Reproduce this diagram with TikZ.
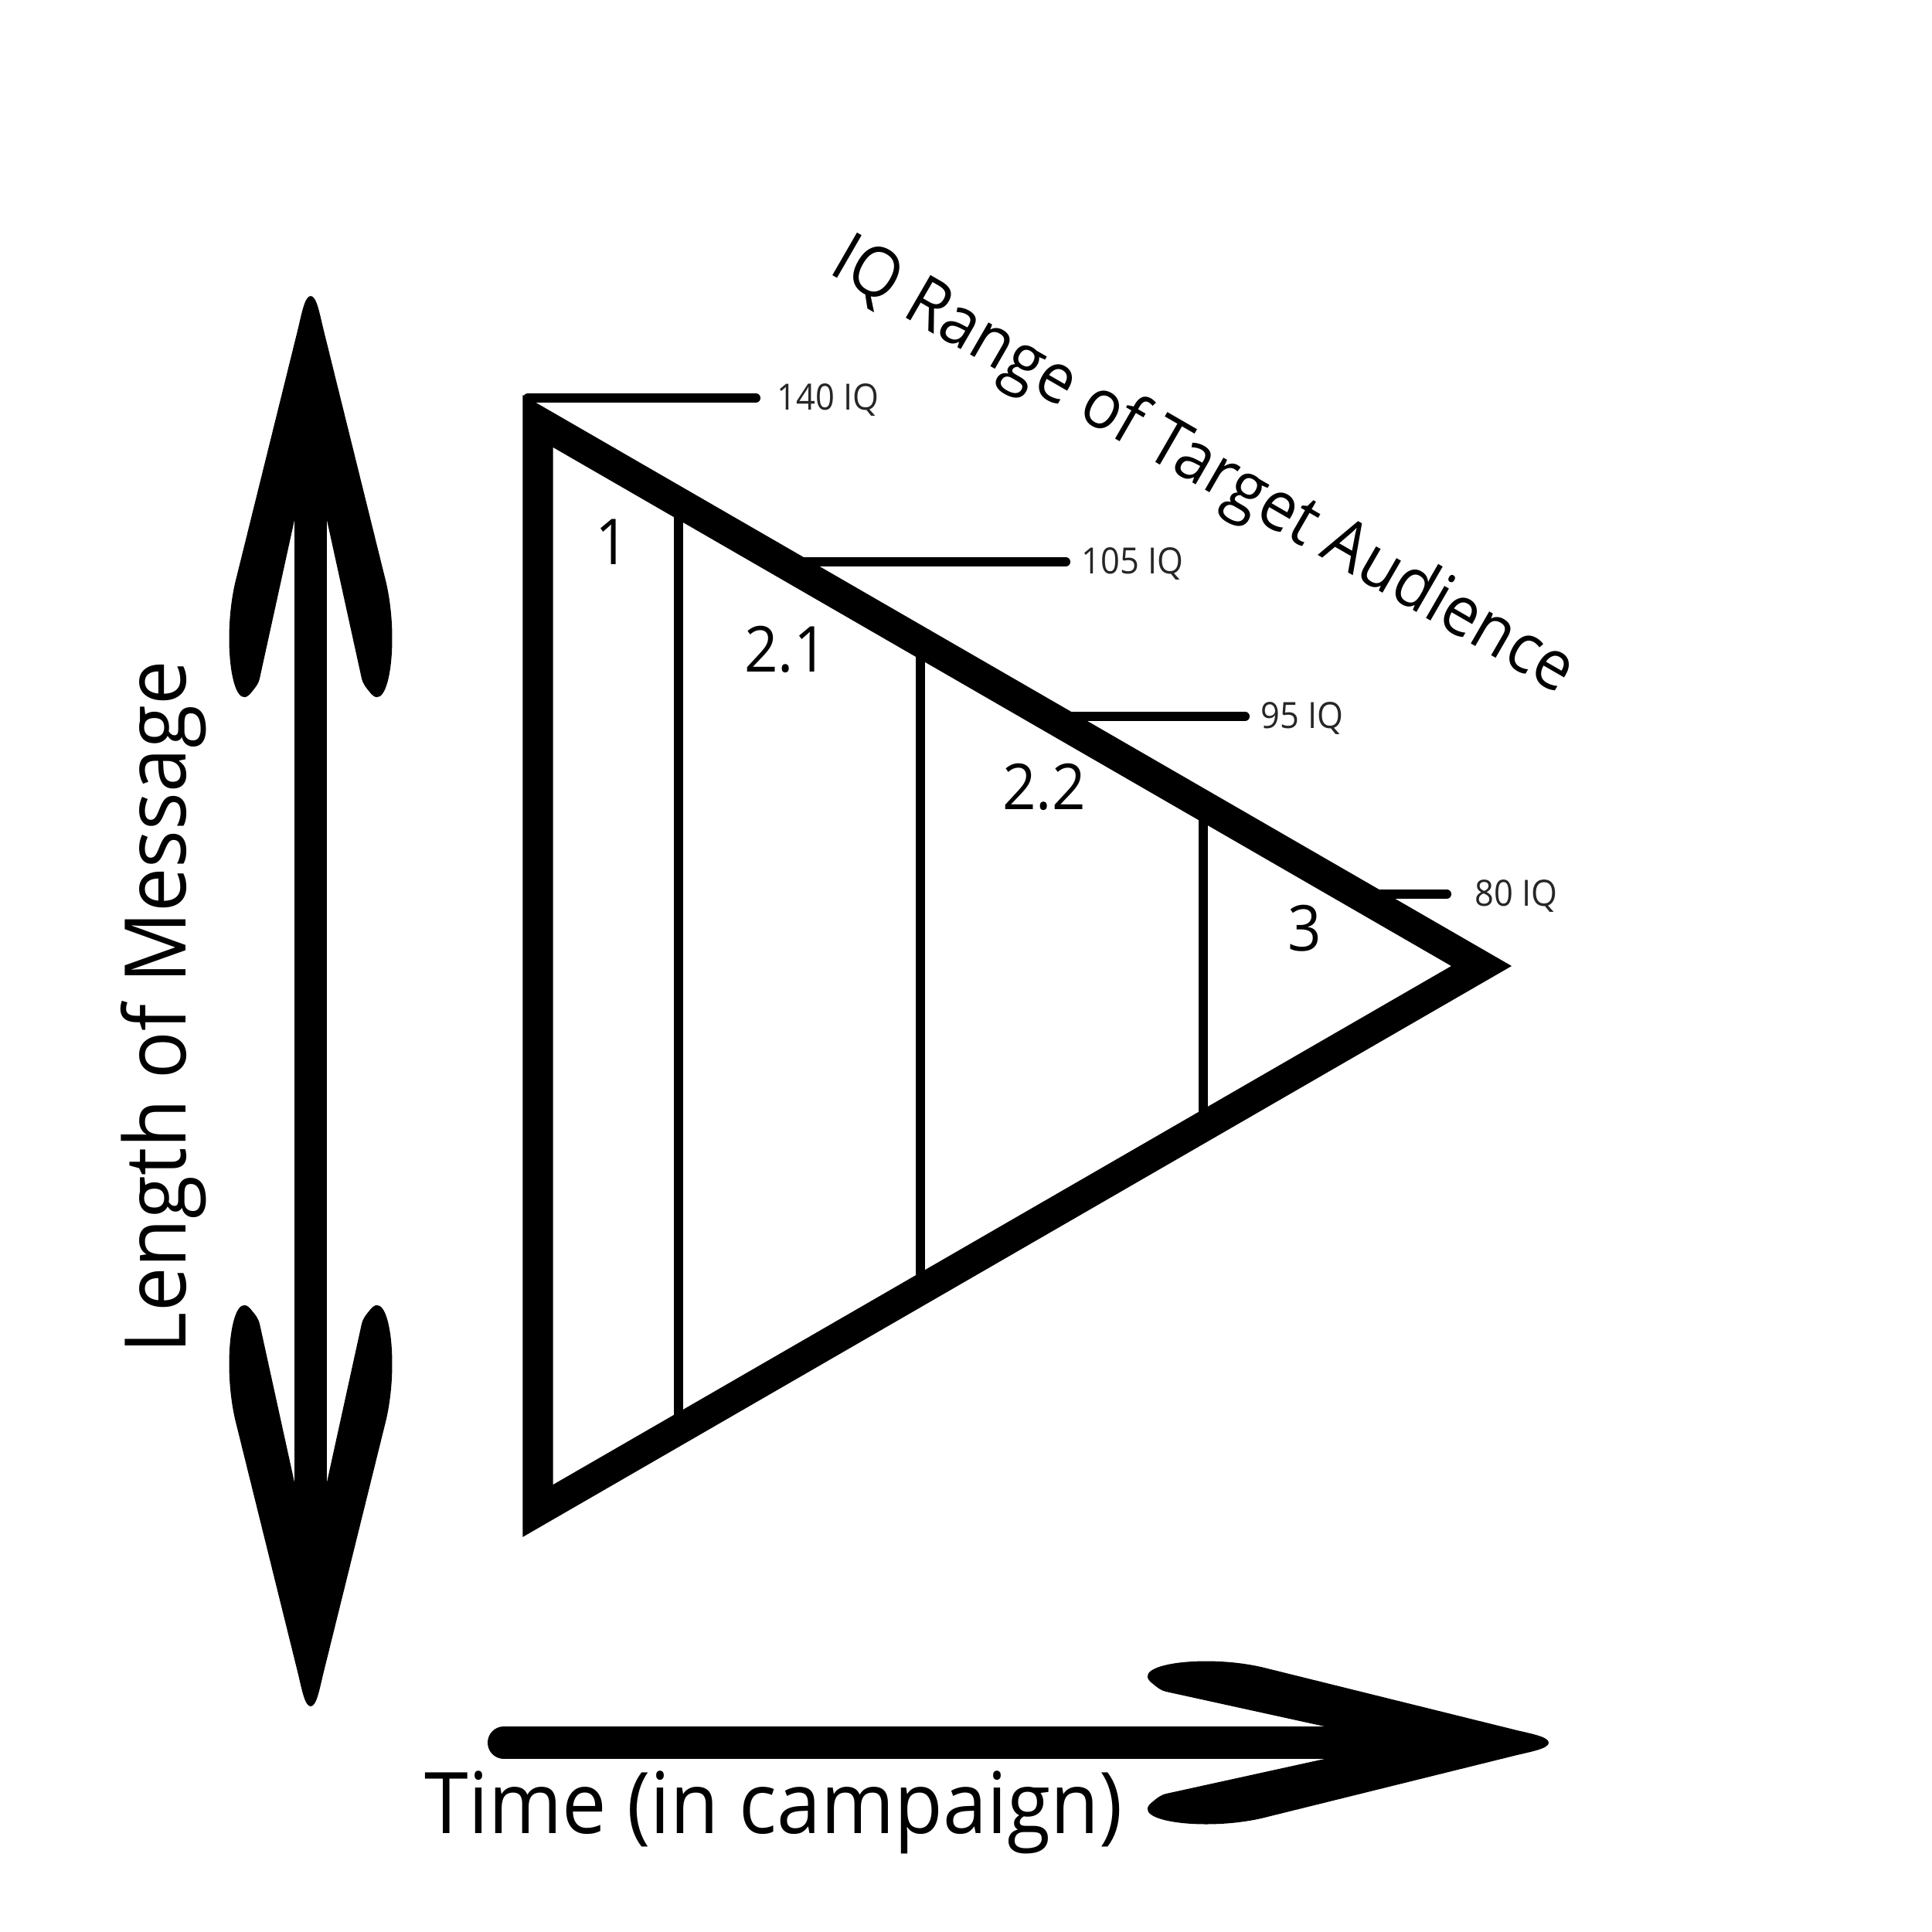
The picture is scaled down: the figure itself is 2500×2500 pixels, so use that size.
\documentclass[tikz,border=0pt]{standalone}
\usepackage{fontspec}
\usepackage{graphicx}
\setmainfont{Open Sans}
\usetikzlibrary{calc}
\newcommand{\narrowtext}[1]{\scalebox{0.93}[1]{#1}}
\tikzset{
  outline/.style={line width=0.39cm, line join=miter},
  divider/.style={line width=0.12cm},
  iqline/.style={line width=0.12cm, line cap=round},
  shaft/.style={line width=0.42cm},
  iqlab/.style={font=\fontsize{13.3}{15}\selectfont, text=black!85, inner sep=0pt, anchor=base west},
  seglab/.style={font=\fontsize{23.3}{27}\selectfont, inner sep=0pt, anchor=base},
  axislab/.style={font=\fontsize{31.3}{36}\selectfont, inner sep=0pt, anchor=base},
  titlelab/.style={font=\fontsize{25.4}{30}\selectfont, inner sep=0pt, anchor=base west},
  bighead/.pic={
    \fill (0,0) .. controls (0,-8) and (-25,-12) .. (-45,-17) -- (-364,-96)
      .. controls (-440,-116) and (-548,-102) .. (-512,-76)
      .. controls (-505,-70) and (-500,-67) .. (-495,-66) -- (-290,-21)
      -- (-290,21) -- (-495,66) .. controls (-500,67) and (-505,70) .. (-512,76)
      .. controls (-548,102) and (-440,116) .. (-364,96) -- (-45,17)
      .. controls (-25,12) and (0,8) .. cycle;
  }
}

\begin{document}
\begin{tikzpicture}[x=0.01cm, y=-0.01cm]
  \fill[white] (0,0) rectangle (2500,2500);
  \useasboundingbox (0,0) rectangle (2500,2500);
  % triangle corners
  \coordinate (top) at (696,545);
  \coordinate (bot) at (696,1955);
  \coordinate (apex) at (1917,1250);
  % dividers between stages
  \foreach \x in {878,1191,1557} {
    \pgfmathsetmacro{\yt}{545 + 0.57735*(\x-696)}
    \pgfmathsetmacro{\yb}{1955 - 0.57735*(\x-696)}
    \draw[divider] (\x,\yt) -- (\x,\yb);
  }
  % IQ marks
  \foreach \y/\xe/\xl/\iq in {515/978/1005/140, 727/1379/1399/105, 927/1611/1631/95, 1157/1872/1908/80} {
    \pgfmathsetmacro{\xs}{max(683, 696+(\y-545)/0.57735)}
    \draw[iqline] (\xs,\y) -- (\xe,\y);
    \node[iqlab] (iq\iq) at (\xl,\y+15) {\narrowtext{\iq\ IQ}};
  }
  \draw[outline] (top) -- (bot) -- (apex) -- cycle;

  \node[seglab] (s1) at (792,730) {\narrowtext{1}};
  \node[seglab] (s21) at (1017,869) {\narrowtext{2.1}};
  \node[seglab] (s22) at (1351,1047) {\narrowtext{2.2}};
  \node[seglab] (s3) at (1688,1230) {\narrowtext{3}};

  \begin{scope}[shift={(1070,352)}, rotate=-30, xscale=0.93]
    \node[titlelab, transform shape] (title) at (0,0) {IQ Range of Target Audience};
  \end{scope}

  % axes
  \coordinate (uptip) at (402,383);
  \coordinate (downtip) at (402,2208);
  \coordinate (tstart) at (652,2255);
  \coordinate (ttip) at (2004,2255);
  \draw[shaft, shorten <=2.9cm, shorten >=2.9cm] (uptip) -- (downtip);
  \draw[shaft, line cap=round, shorten >=2.9cm] (tstart) -- (ttip);
  \pic[rotate=90] at (uptip) {bighead};
  \pic[rotate=-90] at (downtip) {bighead};
  \pic at (ttip) {bighead};

  \begin{scope}[shift={(240,1303)}, rotate=90, xscale=0.93]
    \node[axislab, transform shape] (len) at (0,0) {Length of Message};
  \end{scope}
  \node[axislab] (time) at (1001,2372) {\narrowtext{Time (in campaign)}};
\end{tikzpicture}
\end{document}
